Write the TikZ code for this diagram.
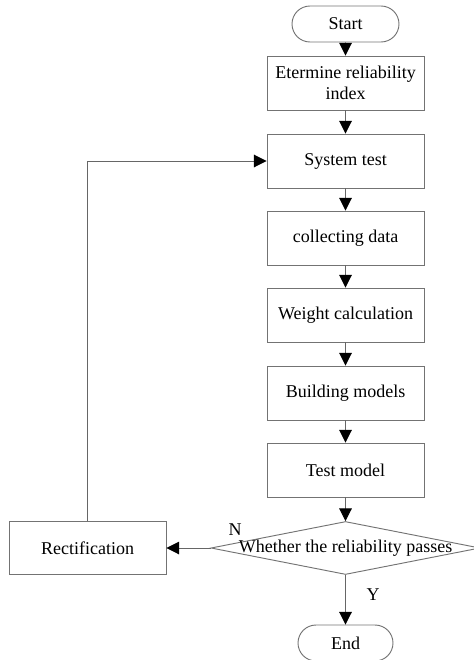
\documentclass[tikz,border=0pt]{standalone}
\usepackage{fontspec}
\setmainfont{Liberation Serif}
\usetikzlibrary{arrows.meta, shapes.misc, shapes.geometric}

\begin{document}
\begin{tikzpicture}[x=0.75pt, y=-0.75pt, >={Triangle[length=9.5pt, width=9.5pt, color=black]},
  line width=0.7pt,
  every node/.style={font=\fontsize{13.5}{16}\selectfont},
  box/.style={draw=black!55, minimum width=117.75pt, minimum height=40.5pt, align=center, inner sep=2pt},
  term/.style={draw=black!55, rounded rectangle, minimum height=27pt, inner sep=0pt},
  decision/.style={draw=black!55, diamond, minimum width=201.75pt, minimum height=39.75pt, inner sep=0pt},
  link/.style={draw=black!60, ->}]
  \clip (0,0) rectangle (474,660);
  % main column
  \node[term, minimum width=80.25pt] (start) at (345.5,24) {Start};
  \node[box] (index) at (345.5,83) {Etermine reliability\\index};
  \node[box] (systest) at (345.5,161) {System test};
  \node[box] (collect) at (345.5,238) {collecting data};
  \node[box] (weight) at (345.5,315) {Weight calculation};
  \node[box] (build) at (345.5,393) {Building models};
  \node[box] (testmod) at (345.5,470) {Test model};
  % decision and branches
  \node[decision] (check) at (345.5,548) {};
  \node (checktext) at (check) {Whether the reliability passes};
  \node[box, minimum height=39.75pt] (fix) at (87.5,548) {Rectification};
  \node[term, minimum width=71.25pt] (finish) at (345.5,643) {End};
  \node (nlab) at (235,530) {N};
  \node (ylab) at (373,595) {Y};
  % connectors
  \draw[link] (start) -- (index);
  \draw[link] (index) -- (systest);
  \draw[link] (systest) -- (collect);
  \draw[link] (collect) -- (weight);
  \draw[link] (weight) -- (build);
  \draw[link] (build) -- (testmod);
  \draw[link] (testmod) -- (check.north);
  \draw[link] (check.west) -- (fix.east);
  \draw[link] (check.south) -- (finish.north);
  \draw[link] (fix.north) |- (systest.west);
\end{tikzpicture}
\end{document}
